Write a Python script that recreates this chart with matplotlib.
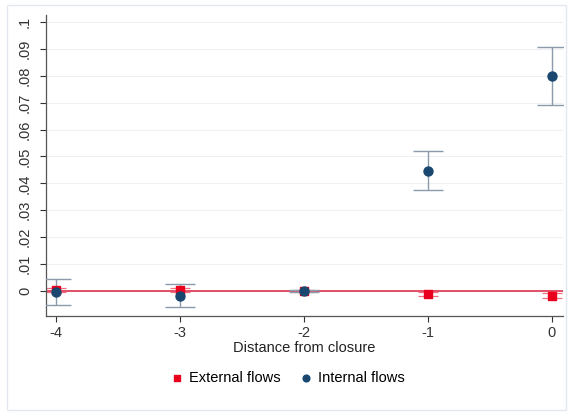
import numpy as np
import matplotlib.pyplot as plt
from matplotlib.patches import Rectangle

plt.rcParams['font.family'] = ['Liberation Sans', 'DejaVu Sans']

# dane
distance = [-4, -3, -2, -1, 0]

internal = [-0.0003, -0.0017, 0.0, 0.0446, 0.0800]
internal_lo = [-0.0052, -0.0059, -0.0002, 0.0375, 0.0691]
internal_hi = [0.0045, 0.0026, 0.0002, 0.0521, 0.0907]

external = [0.0003, 0.0003, 0.0, -0.0010, -0.0017]
external_lo = [-0.0004, -0.0004, -0.0002, -0.0017, -0.0025]
external_hi = [0.0010, 0.0010, 0.0002, -0.0003, -0.0009]

yticks = np.arange(0, 0.11, 0.01)
ytick_labels = ["0", ".01", ".02", ".03", ".04", ".05", ".06", ".07", ".08", ".09", ".1"]

NAVY = "#1a476f"
RED = "#e8001c"


def main():
    fig = plt.figure(figsize=(5.73, 4.16), dpi=100)
    fig.patch.set_facecolor("white")
    # delikatna ramka wokół całości
    fig.patches.append(Rectangle((0.012, 0.015), 0.975, 0.972, transform=fig.transFigure,
                                 fill=False, edgecolor="#e4e8ee", linewidth=1.0))

    ax = fig.add_axes([0.0803, 0.2404, 0.902, 0.7236])

    for y in yticks:
        ax.axhline(y, color="#eef0f3", linewidth=0.8, zorder=0)

    ax.axhline(0, color="#e0405a", linewidth=1.3, zorder=1)

    x = np.array(distance)
    ext = np.array(external)
    ax.errorbar(x, ext, yerr=[ext - np.array(external_lo), np.array(external_hi) - ext],
                fmt="none", ecolor="#f07080", elinewidth=0.9, capsize=7, capthick=0.9, zorder=2)
    ax.scatter(x, ext, marker="s", s=40, color=RED, zorder=4, label="External flows")

    inn = np.array(internal)
    ax.errorbar(x, inn, yerr=[inn - np.array(internal_lo), np.array(internal_hi) - inn],
                fmt="none", ecolor="#8c9bab", elinewidth=1.0, capsize=11, capthick=1.0, zorder=3)
    ax.scatter(x, inn, marker="o", s=42, color=NAVY, zorder=5, label="Internal flows")

    ax.set_xlim(-4.08, 0.09)
    ax.set_ylim(-0.0093, 0.1026)
    ax.set_xticks(distance)
    ax.set_xticklabels([str(d) for d in distance])
    ax.set_yticks(yticks)
    ax.set_yticklabels(ytick_labels, rotation=90, va="center")
    ax.tick_params(colors="#333333", labelsize=10.5, length=4, width=0.8)
    ax.tick_params(axis="x", pad=3)
    ax.tick_params(axis="y", pad=6)
    ax.set_xlabel("Distance from closure", fontsize=10.5, color="#222222", labelpad=1)

    for side in ["top", "right"]:
        ax.spines[side].set_visible(False)
    for side in ["left", "bottom"]:
        ax.spines[side].set_color("#555555")
        ax.spines[side].set_linewidth(0.9)

    h, l = ax.get_legend_handles_labels()
    fig.legend(h, l, loc="center", bbox_to_anchor=(0.50, 0.092), ncol=2, frameon=False,
               fontsize=10.5, handletextpad=0.2, columnspacing=1.2, markerscale=0.75,
               handlelength=1.2)

    fig.savefig("out.png", dpi=100)
    plt.close(fig)


if __name__ == "__main__":
    main()
